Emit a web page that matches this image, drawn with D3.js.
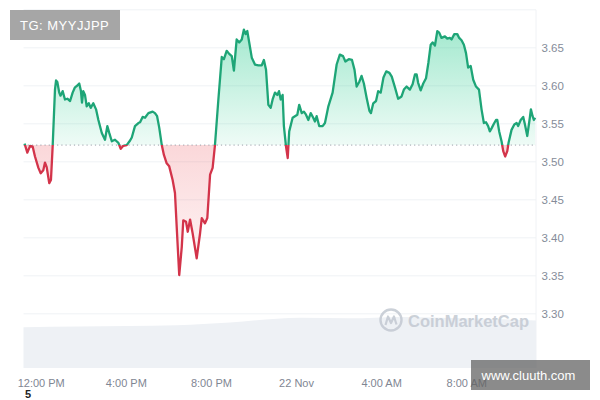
<!DOCTYPE html>
<html><head><meta charset="utf-8">
<script src="https://cdn.jsdelivr.net/npm/d3@7"></script>
<style>html,body{margin:0;padding:0;background:#fff;} svg{display:block;font-family:"Liberation Sans",Arial,sans-serif;}</style>
</head><body><svg id="chart" width="600" height="400"></svg>
<script>
// ---- data (hours relative to 21 Nov 12:00 PM) ----
const hoursFromNoon = [-0.76,-0.63,-0.50,-0.38,-0.27,-0.11,0.00,0.12,0.20,0.28,0.40,0.48,0.56,0.67,0.72,0.78,0.87,0.93,1.03,1.14,1.25,1.38,1.50,1.61,1.71,1.81,1.89,1.94,2.00,2.08,2.16,2.26,2.35,2.47,2.60,2.71,2.87,2.97,3.02,3.13,3.22,3.34,3.49,3.65,3.76,3.88,4.04,4.20,4.28,4.43,4.59,4.67,4.79,4.90,5.06,5.26,5.37,5.47,5.57,5.69,5.79,5.92,6.04,6.20,6.31,6.39,6.51,6.63,6.70,6.83,6.91,7.02,7.14,7.33,7.49,7.57,7.72,7.83,7.96,8.08,8.19,8.35,8.51,8.61,8.74,8.86,8.98,9.08,9.21,9.33,9.45,9.55,9.63,9.71,9.80,9.92,10.07,10.23,10.39,10.49,10.59,10.70,10.81,10.90,11.01,11.12,11.20,11.28,11.37,11.43,11.53,11.61,11.68,11.84,11.95,12.06,12.15,12.27,12.37,12.47,12.58,12.69,12.81,12.89,12.97,13.09,13.25,13.36,13.52,13.72,13.91,14.06,14.21,14.32,14.48,14.63,14.75,14.85,14.97,15.08,15.19,15.32,15.45,15.52,15.63,15.76,15.86,15.98,16.11,16.24,16.39,16.50,16.65,16.80,16.96,17.07,17.20,17.35,17.48,17.59,17.67,17.74,17.86,17.98,18.11,18.22,18.33,18.42,18.53,18.64,18.73,18.84,19.00,19.11,19.23,19.31,19.44,19.58,19.67,19.78,19.89,19.99,20.09,20.21,20.33,20.46,20.60,20.72,20.83,20.93,21.03,21.11,21.19,21.30,21.40,21.46,21.55,21.66,21.74,21.83,21.93,21.99,22.13,22.26,22.37,22.44,22.56,22.68,22.76,22.87,22.99,23.04,23.12,23.18,23.24];
const prices = [3.524,3.512,3.521,3.520,3.507,3.492,3.485,3.489,3.499,3.493,3.472,3.476,3.520,3.595,3.607,3.605,3.591,3.587,3.593,3.582,3.583,3.580,3.591,3.598,3.600,3.603,3.593,3.578,3.593,3.588,3.573,3.577,3.571,3.577,3.569,3.555,3.538,3.532,3.529,3.547,3.538,3.527,3.529,3.525,3.517,3.521,3.522,3.528,3.532,3.547,3.551,3.552,3.559,3.558,3.564,3.566,3.564,3.560,3.545,3.522,3.509,3.498,3.494,3.476,3.459,3.415,3.351,3.388,3.423,3.421,3.408,3.424,3.406,3.373,3.406,3.426,3.419,3.426,3.483,3.492,3.522,3.582,3.638,3.635,3.646,3.642,3.639,3.620,3.661,3.657,3.661,3.674,3.668,3.672,3.657,3.637,3.628,3.627,3.627,3.634,3.621,3.575,3.571,3.582,3.591,3.588,3.593,3.582,3.588,3.547,3.520,3.505,3.540,3.558,3.560,3.562,3.575,3.564,3.566,3.562,3.555,3.564,3.558,3.553,3.560,3.547,3.547,3.551,3.573,3.591,3.628,3.641,3.639,3.632,3.635,3.634,3.621,3.599,3.605,3.613,3.603,3.584,3.567,3.564,3.577,3.580,3.593,3.591,3.611,3.619,3.617,3.612,3.598,3.583,3.586,3.595,3.599,3.595,3.602,3.615,3.615,3.604,3.594,3.603,3.610,3.630,3.654,3.657,3.653,3.672,3.670,3.663,3.665,3.662,3.663,3.661,3.668,3.668,3.663,3.660,3.654,3.643,3.624,3.626,3.608,3.599,3.595,3.569,3.551,3.552,3.547,3.540,3.544,3.550,3.555,3.555,3.540,3.527,3.514,3.507,3.514,3.525,3.542,3.549,3.551,3.547,3.555,3.559,3.549,3.534,3.558,3.569,3.560,3.555,3.558];
const openPrice = 3.522;
const volHours = [-0.81, 1.8, 6.4, 8.9, 12.2, 14.5, 16.9, 20.0, 23.28];
const volumes = [60, 61, 63, 67, 74, 73, 75, 73, 70];
const priceTicks = [3.30, 3.35, 3.40, 3.45, 3.50, 3.55, 3.60, 3.65];
const gridTicks = [3.30, 3.35, 3.40, 3.45, 3.50, 3.55, 3.60, 3.65, 3.70];
const timeTickHours = [0, 4, 8, 12, 16, 20];
const timeTickLabels = ["12:00 PM", "4:00 PM", "8:00 PM", "22 Nov", "4:00 AM", "8:00 AM"];
const domainHours = [-0.81, 23.28];

// ---- setup ----
const svg = d3.select("#chart");
const base = new Date(2024, 10, 21, 12, 0).getTime();
const toDate = h => new Date(base + h * 3600e3);
const L = 23.5, R = 536, B = 368;
const x = d3.scaleTime().domain(domainHours.map(toDate)).range([L, R]);
const y = d3.scaleLinear().domain([3.30, 3.65]).range([313.8, 47.8]);
const yv = d3.scaleLinear().domain([0, 100]).range([B, 300]);
const data = hoursFromNoon.map((h, i) => ({t: toDate(h), v: prices[i]}));
const vol = volHours.map((h, i) => ({t: toDate(h), v: volumes[i]}));
const by = y(openPrice);

const defs = svg.append("defs");
const gG = defs.append("linearGradient").attr("id", "gG").attr("gradientUnits", "userSpaceOnUse")
  .attr("x1", 0).attr("x2", 0).attr("y1", 25).attr("y2", by);
gG.append("stop").attr("offset", 0).attr("stop-color", "#16c784").attr("stop-opacity", 0.4);
gG.append("stop").attr("offset", 1).attr("stop-color", "#16c784").attr("stop-opacity", 0.07);
const gR = defs.append("linearGradient").attr("id", "gR").attr("gradientUnits", "userSpaceOnUse")
  .attr("x1", 0).attr("x2", 0).attr("y1", by).attr("y2", 280);
gR.append("stop").attr("offset", 0).attr("stop-color", "#ea3943").attr("stop-opacity", 0.2);
gR.append("stop").attr("offset", 1).attr("stop-color", "#ea3943").attr("stop-opacity", 0.04);
defs.append("clipPath").attr("id", "cUp").append("rect").attr("x", 0).attr("y", 0).attr("width", 600).attr("height", by);
defs.append("clipPath").attr("id", "cDn").append("rect").attr("x", 0).attr("y", by).attr("width", 600).attr("height", 400 - by);

// gridlines
svg.append("g").selectAll("line").data(gridTicks).join("line")
  .attr("x1", L).attr("x2", R).attr("y1", d => y(d)).attr("y2", d => y(d))
  .attr("stroke", "#eff2f5").attr("stroke-width", 1);
svg.append("line").attr("x1", R).attr("x2", R).attr("y1", y(3.70)).attr("y2", B)
  .attr("stroke", "#f0f2f5");

// volume area
svg.append("path").datum(vol)
  .attr("d", d3.area().x(d => x(d.t)).y0(B).y1(d => yv(d.v)).curve(d3.curveMonotoneX))
  .attr("fill", "#eef1f5");

// CoinMarketCap watermark
const wm = svg.append("g").attr("opacity", 0.85);
wm.append("circle").attr("cx", 391).attr("cy", 320).attr("r", 10.5)
  .attr("fill", "none").attr("stroke", "#c3c9d2").attr("stroke-width", 2.4);
wm.append("path").attr("d", "M385.5,325 L388,316.5 L391,323 L394,316.5 L396.5,324.5")
  .attr("fill", "none").attr("stroke", "#c3c9d2").attr("stroke-width", 2.2).attr("stroke-linejoin", "round");
wm.append("text").attr("x", 408).attr("y", 327).attr("font-size", 16.5).attr("font-weight", 600)
  .attr("fill", "#c3c9d2").text("CoinMarketCap");

// areas
const area = d3.area().x(d => x(d.t)).y0(by).y1(d => y(d.v));
svg.append("path").datum(data).attr("d", area).attr("fill", "url(#gG)").attr("clip-path", "url(#cUp)");
svg.append("path").datum(data).attr("d", area).attr("fill", "url(#gR)").attr("clip-path", "url(#cDn)");

// baseline
svg.append("line").attr("x1", L).attr("x2", R).attr("y1", by).attr("y2", by)
  .attr("stroke", "#9aa0aa").attr("stroke-width", 1).attr("stroke-dasharray", "1.2,3");

// lines
const line = d3.line().x(d => x(d.t)).y(d => y(d.v));
svg.append("path").datum(data).attr("d", line).attr("fill", "none").attr("stroke", "#1ea577")
  .attr("stroke-width", 2.3).attr("stroke-linejoin", "round").attr("clip-path", "url(#cUp)");
svg.append("path").datum(data).attr("d", line).attr("fill", "none").attr("stroke", "#d3344a")
  .attr("stroke-width", 2.3).attr("stroke-linejoin", "round").attr("clip-path", "url(#cDn)");

// axes
const ya = svg.append("g").attr("transform", `translate(${R},0)`)
  .call(d3.axisRight(y).tickValues(priceTicks).tickFormat(d3.format(".2f")).tickSize(0).tickPadding(5.5));
ya.select(".domain").remove();
ya.selectAll("text").attr("font-size", 11.5).attr("fill", "#858c99").attr("font-family", "Liberation Sans, Arial, sans-serif");

const xa = svg.append("g").attr("transform", `translate(0,${B})`)
  .call(d3.axisBottom(x).tickValues(timeTickHours.map(toDate)).tickFormat((d, i) => timeTickLabels[i]).tickSize(0).tickPadding(11));
xa.select(".domain").remove();
xa.selectAll("text").attr("font-size", 11).attr("fill", "#7f8693").attr("font-family", "Liberation Sans, Arial, sans-serif");

// overlay labels
svg.append("rect").attr("x", 10).attr("y", 10).attr("width", 110).attr("height", 30).attr("fill", "rgba(128,128,128,0.7)");
svg.append("text").attr("x", 20).attr("y", 29.5).attr("font-size", 13).attr("letter-spacing", 0.5)
  .attr("fill", "#fff").text("TG: MYYJJPP");
svg.append("rect").attr("x", 471).attr("y", 360).attr("width", 119).attr("height", 30).attr("fill", "rgba(100,100,100,0.75)");
svg.append("text").attr("x", 481.5).attr("y", 380).attr("font-size", 13).attr("fill", "#fff").text("www.cluuth.com");
svg.append("text").attr("x", 25).attr("y", 397.5).attr("font-size", 11).attr("font-weight", 600).attr("fill", "#222").text("5");
</script></body></html>
